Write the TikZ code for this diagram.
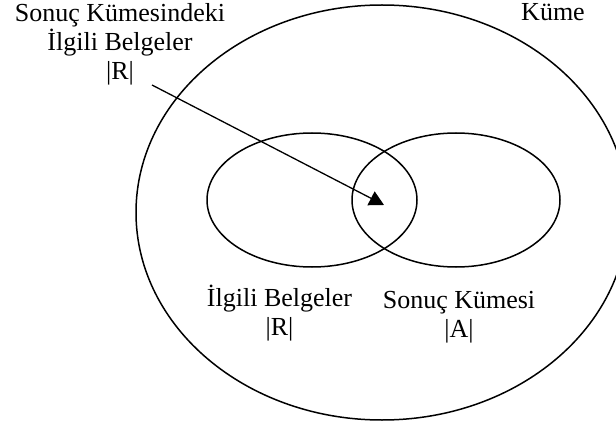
\documentclass[tikz,border=0pt]{standalone}
\usepackage{fontspec}
\setmainfont{Liberation Serif}
\usetikzlibrary{arrows.meta}

\tikzset{
  setline/.style={line width=1.5pt},
  % multi-line labels: the base anchor sits on the last line
  label/.style={font=\fontsize{26}{29}\selectfont, align=center, inner sep=0pt, anchor=base},
  pointer/.style={line width=1.3pt, -{Triangle[length=14.6pt,width=15.4pt]}},
}

\begin{document}
\begin{tikzpicture}[x=1pt, y=-1pt]
  \clip (0,0) rectangle (616,425);
  \fill[white] (0,0) rectangle (616,425);

  % universe (runs past the right edge) and the two sets
  \draw[setline] (382,212.5) ellipse [x radius=246, y radius=207.5];
  \draw[setline] (312,200) ellipse [x radius=105, y radius=67];
  \draw[setline] (456,200) ellipse [x radius=104, y radius=67];

  % labels
  \node[label] (kume) at (553,20.7) {Küme};
  \node[label] (kesisim) at (120,80) {Sonuç Kümesindeki\\İlgili Belgeler\\|R|};
  \node[label] (ilgili) at (279.5,335.5) {İlgili Belgeler\\|R|};
  \node[label] (sonuc) at (459,337) {Sonuç Kümesi\\|A|};

  % pointer into the intersection
  \coordinate (ptrfrom) at (152,85);
  \coordinate (ptrto) at (384,205);
  \draw[pointer] (ptrfrom) -- (ptrto);
\end{tikzpicture}
\end{document}
